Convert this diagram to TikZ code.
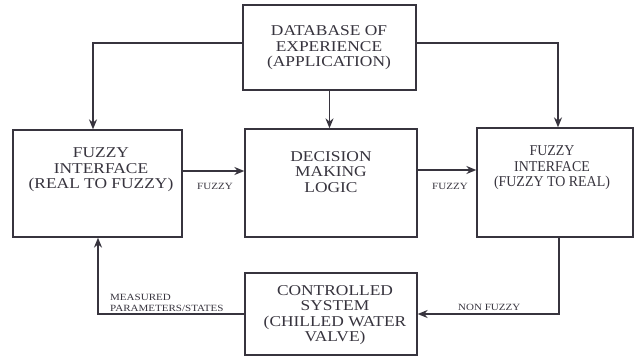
\documentclass[tikz,border=0pt]{standalone}
\usepackage{fontspec}
\setmainfont[FakeStretch=1.16]{Liberation Serif}
\newfontfamily\narrowserif[FakeStretch=0.93]{Liberation Serif}
\usetikzlibrary{arrows.meta,calc}
\definecolor{ink}{RGB}{55,52,62}
\begin{document}
\begin{tikzpicture}[x=1pt,y=-1pt,
  box/.style={draw=ink,line width=1.3pt,rectangle,inner sep=0pt},
  txt/.style={text=ink,align=center,font=\fontsize{15}{15.5}\selectfont},
  lbl/.style={text=ink,align=left,font=\fontsize{9.5}{11}\selectfont,inner sep=0pt},
  arr/.style={draw=ink,line width=1.3pt,-{Stealth[length=10pt,width=8pt]}}]
\useasboundingbox (0,0) rectangle (641,357);
\fill[white] (0,0) rectangle (641,357);
\node[box,minimum width=173pt,minimum height=85pt] (top) at (329.5,47.5) {};
\node[box,minimum width=169pt,minimum height=107pt] (left) at (97.5,183.5) {};
\node[box,minimum width=172pt,minimum height=108pt] (mid) at (331,183) {};
\node[box,minimum width=156pt,minimum height=109pt] (right) at (555,182.5) {};
\node[box,minimum width=172pt,minimum height=82pt] (bot) at (331,314) {};
\node[txt] (ttop) at (329,48) {DATABASE OF\\EXPERIENCE\\(APPLICATION)};
\node[txt] (tleft) at (101,170) {FUZZY\\INTERFACE\\(REAL TO FUZZY)};
\node[txt] (tmid) at (331,172) {DECISION\\MAKING\\LOGIC};
\node[txt,font=\narrowserif\fontsize{15}{15.5}\selectfont] (tright) at (552,168) {FUZZY\\INTERFACE\\(FUZZY TO REAL)};
\node[txt] (tbot) at (335,315) {CONTROLLED\\SYSTEM\\(CHILLED WATER\\VALVE)};
\node[lbl] (l1) at (215,186) {FUZZY};
\node[lbl] (l2) at (450,186) {FUZZY};
\node[lbl,anchor=west] (l3) at (110,302.5) {MEASURED\\PARAMETERS/STATES};
\node[lbl,anchor=west] (l4) at (458,307) {NON FUZZY};
% connectors
\coordinate (tl) at ($(top.west)+(0,-4.5)$);
\coordinate (tr) at ($(top.east)+(0,-4.5)$);
\draw[arr] (tl) -| ($(left.north)+(-4.5,0)$);
\draw[arr] (tr) -| ($(right.north)+(3,0)$);
\draw[arr] (top.south) -- (top.south |- mid.north);
\draw[arr] ($(left.east)+(0,-12.5)$) -- ($(mid.west)+(0,-12)$);
\draw[arr] ($(mid.east)+(0,-13)$) -- ($(right.west)+(0,-12.5)$);
\coordinate (rb) at ($(right.south)+(4,0)$);
\draw[arr] (rb) |- (bot.east);
\draw[arr] (bot.west) -| ($(left.south)+(0.5,0)$);
\end{tikzpicture}
\end{document}
